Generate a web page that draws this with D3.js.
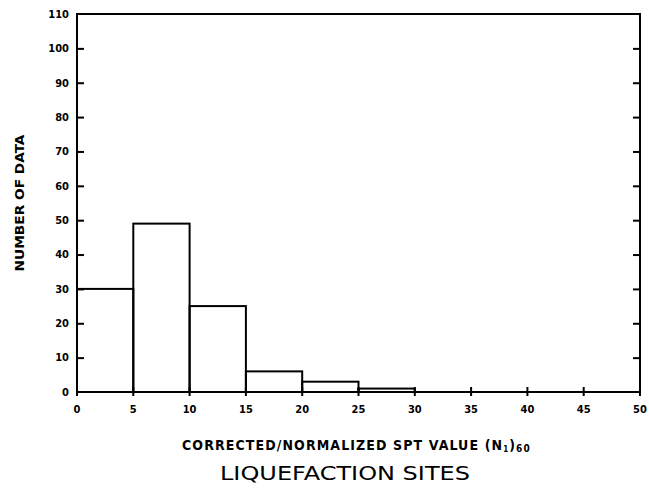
<!DOCTYPE html>
<html><head><meta charset="utf-8">
<script src="https://cdn.jsdelivr.net/npm/d3@7"></script>
<style>body{margin:0;background:#fff}svg{display:block}</style>
</head><body>
<svg id="c" width="649" height="493"></svg>
<script>
const binStarts = [0, 5, 10, 15, 20, 25, 30, 35, 40, 45];
const binWidth = 5;
const binCounts = [30, 49, 25, 6, 3, 1, 0, 0, 0, 0];
const xTicks = [0, 5, 10, 15, 20, 25, 30, 35, 40, 45, 50];
const yTicks = [0, 10, 20, 30, 40, 50, 60, 70, 80, 90, 100, 110];
const yTitle = "NUMBER OF DATA";
const xTitle = "CORRECTED/NORMALIZED SPT VALUE (N";
const chartTitle = "LIQUEFACTION SITES";

const svg = d3.select("#c");
const L = 77, R = 640, T = 14, B = 392;
const x = d3.scaleLinear().domain([0, 50]).range([L, R]);
const y = d3.scaleLinear().domain([0, 110]).range([B, T]);
const tickFont = "'DejaVu Sans Condensed','DejaVu Sans',sans-serif";

// bars
svg.append("g").selectAll("rect")
  .data(binStarts.map((s, i) => ({s, c: binCounts[i]})).filter(d => d.c > 0))
  .join("rect")
  .attr("x", d => x(d.s)).attr("width", d => x(d.s + binWidth) - x(d.s))
  .attr("y", d => y(d.c)).attr("height", d => y(0) - y(d.c))
  .attr("fill", "none").attr("stroke", "#000").attr("stroke-width", 2);

// frame
svg.append("rect").attr("x", L).attr("y", T).attr("width", R - L).attr("height", B - T)
  .attr("fill", "none").attr("stroke", "#000").attr("stroke-width", 2);

// left axis ticks (inward)
const yl = d3.axisRight(y).tickValues(yTicks.slice(1, -1)).tickSize(7).tickFormat("");
svg.append("g").attr("transform", `translate(${L},0)`).call(yl)
  .call(g => g.select(".domain").remove())
  .selectAll("line").attr("stroke-width", 2);
// right axis ticks (inward)
const yr = d3.axisLeft(y).tickValues(yTicks.slice(1, -1)).tickSize(7).tickFormat("");
svg.append("g").attr("transform", `translate(${R},0)`).call(yr)
  .call(g => g.select(".domain").remove())
  .selectAll("line").attr("stroke-width", 2);
// y labels
svg.append("g").selectAll("text").data(yTicks).join("text")
  .attr("x", 69).attr("y", d => y(d)).attr("dy", "0.35em")
  .attr("text-anchor", "end").attr("font-family", tickFont).attr("font-weight", "bold")
  .attr("font-size", 11).text(d => d);

// bottom ticks (crossing)
svg.append("g").selectAll("line").data(xTicks).join("line")
  .attr("x1", d => x(d)).attr("x2", d => x(d)).attr("y1", B - 5).attr("y2", B + 4)
  .attr("stroke", "#000").attr("stroke-width", 2);
svg.append("g").selectAll("text").data(xTicks).join("text")
  .attr("x", d => x(d)).attr("y", 409).attr("dy", "0.35em")
  .attr("text-anchor", "middle").attr("font-family", tickFont).attr("font-weight", "bold")
  .attr("font-size", 11).text(d => d);

// y title
svg.append("text").attr("transform", "translate(20,203) rotate(-90)")
  .attr("text-anchor", "middle").attr("dy", "0.35em")
  .attr("font-family", tickFont).attr("font-weight", "bold").attr("font-size", 12)
  .attr("textLength", 137).attr("lengthAdjust", "spacingAndGlyphs")
  .text(yTitle);

// x title
const xt = svg.append("text").attr("x", 182).attr("y", 450)
  .attr("font-family", tickFont).attr("font-weight", "bold").attr("font-size", 14)
  .attr("letter-spacing", 1.1);
xt.append("tspan").text(xTitle);
xt.append("tspan").attr("font-size", 8).attr("dy", 2).text("1");
xt.append("tspan").attr("dy", -2).text(")");
xt.append("tspan").attr("font-size", 10).attr("dy", 2).text("60");

// chart title
svg.append("text").attr("x", 345).attr("y", 480).attr("text-anchor", "middle")
  .attr("font-family", "'DejaVu Sans',sans-serif").attr("font-size", 19)
  .attr("textLength", 250).attr("lengthAdjust", "spacingAndGlyphs")
  .text(chartTitle);
</script>
</body></html>
